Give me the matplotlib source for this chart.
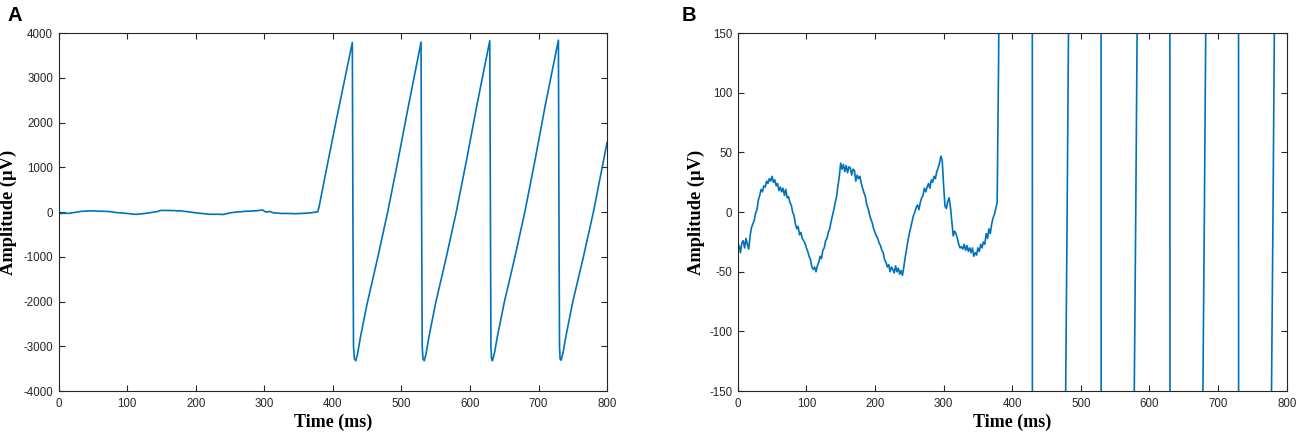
"""
Sawtooth artefact in an EEG channel: full range (A) and zoomed amplitude (B).
"""

import matplotlib
matplotlib.use('Agg')
import matplotlib.pyplot as plt

plt.rcParams['axes.unicode_minus'] = False

# --- data ------------------------------------------------------------------
# quiet baseline before the artefact, 2 ms steps from 0 to 378 ms
base_t = list(range(0, 380, 2))
base_amp = [
    -32, -28, -34, -26, -24, -30, -22, -27, -31, -20,
    -13, -10, -7, -1, 2, 10, 14, 19, 17, 22,
    21, 26, 24, 28, 26, 30, 25, 27, 22, 24,
    18, 21, 17, 20, 14, 19, 12, 13, 8, 6,
    0, -3, -10, -14, -12, -19, -17, -22, -24, -26,
    -30, -33, -37, -40, -46, -48, -46, -50, -45, -42,
    -37, -39, -32, -30, -24, -22, -17, -14, -8, -3,
    2, 8, 13, 22, 30, 41, 36, 40, 34, 39,
    33, 38, 37, 31, 36, 35, 26, 31, 28, 30,
    24, 20, 16, 13, 6, 3, -2, -6, -9, -14,
    -17, -20, -22, -26, -28, -32, -34, -40, -42, -46,
    -44, -50, -46, -48, -51, -45, -50, -47, -52, -49,
    -53, -46, -38, -31, -24, -18, -13, -8, -3, 0,
    4, 6, 2, 8, 12, 14, 20, 17, 21, 24,
    20, 27, 25, 30, 28, 34, 37, 41, 47, 43,
    22, 5, 3, 9, 12, 4, -8, -20, -16, -18,
    -22, -27, -30, -29, -31, -27, -32, -28, -33, -30,
    -34, -30, -37, -34, -36, -30, -33, -27, -30, -25,
    -27, -18, -22, -14, -18, -10, -5, -2, 3, 8,
]

# sawtooth artefact from 380 ms onwards
saw_t = [
    380, 390, 405, 428.5,
    429.3, 430.2, 431.5, 433.5, 436, 440, 450, 465, 480, 495, 510, 528.7,
    529.5, 530.4, 531.5, 533.3, 536, 540, 550, 565, 580, 595, 610, 628.9,
    629.8, 630.6, 631.5, 632.8, 636, 640, 650, 665, 680, 695, 710, 729,
    729.8, 730.6, 731.5, 733, 736, 740, 750, 765, 780, 790, 800,
]
saw_amp = [
    120, 900, 2050, 3790,
    0, -3000, -3280, -3320, -3180, -2820, -2050, -1050, 0, 1150, 2350, 3800,
    0, -3000, -3280, -3320, -3170, -2800, -2030, -1040, 0, 1160, 2380, 3830,
    0, -3000, -3280, -3320, -3130, -2780, -2020, -1040, 0, 1170, 2400, 3845,
    0, -3000, -3280, -3310, -3120, -2770, -2000, -1030, 0, 780, 1560,
]

time_ms = base_t + saw_t
amp_uv = base_amp + saw_amp

# axis ranges and ticks
x_ticks = [0, 100, 200, 300, 400, 500, 600, 700, 800]
a_yticks = [-4000, -3000, -2000, -1000, 0, 1000, 2000, 3000, 4000]
b_yticks = [-150, -100, -50, 0, 50, 100, 150]

LINE_COLOR = '#0072BD'
EDGE = '#262626'


def style_axes(ax, yticks, ylab_x):
    """MATLAB-like boxed axes with inward ticks on every side."""
    ax.set_xlim(0, 800)
    ax.set_ylim(yticks[0], yticks[-1])
    ax.set_xticks(x_ticks)
    ax.set_yticks(yticks)
    ax.tick_params(direction='in', top=True, right=True, length=4,
                   width=0.8, labelsize=8.3, colors=EDGE)
    ax.tick_params(axis='x', pad=5)
    ax.tick_params(axis='y', pad=4)
    for lab in ax.get_xticklabels() + ax.get_yticklabels():
        lab.set_family('Liberation Sans')
    for sp in ax.spines.values():
        sp.set_color(EDGE)
        sp.set_linewidth(0.8)
    ax.set_xlabel('Time (ms)', fontsize=13, fontweight='bold',
                  family='Liberation Serif')
    ax.set_ylabel('Amplitude (µV)', fontsize=13.3, fontweight='bold',
                  family='Liberation Serif')
    ax.xaxis.set_label_coords(0.5, -0.063)
    ax.yaxis.set_label_coords(ylab_x, 0.5)


fig = plt.figure(figsize=(13, 4.36), dpi=100)

# Panel A: full amplitude range
ax_a = fig.add_axes([0.045, 0.103, 0.422, 0.821])
ax_a.plot(time_ms, amp_uv, color=LINE_COLOR, linewidth=1.2)
style_axes(ax_a, a_yticks, -0.075)

# Panel B: same signal, zoomed to +-150 uV
ax_b = fig.add_axes([0.5675, 0.103, 0.4223, 0.821])
ax_b.plot(time_ms, amp_uv, color=LINE_COLOR, linewidth=1.2)
style_axes(ax_b, b_yticks, -0.06)

fig.text(0.0055, 0.986, 'A', fontsize=14.5, fontweight='bold', va='top',
         family='Liberation Sans')
fig.text(0.5245, 0.986, 'B', fontsize=14.5, fontweight='bold', va='top',
         family='Liberation Sans')

plt.savefig('out.png', dpi=100)
plt.close()
